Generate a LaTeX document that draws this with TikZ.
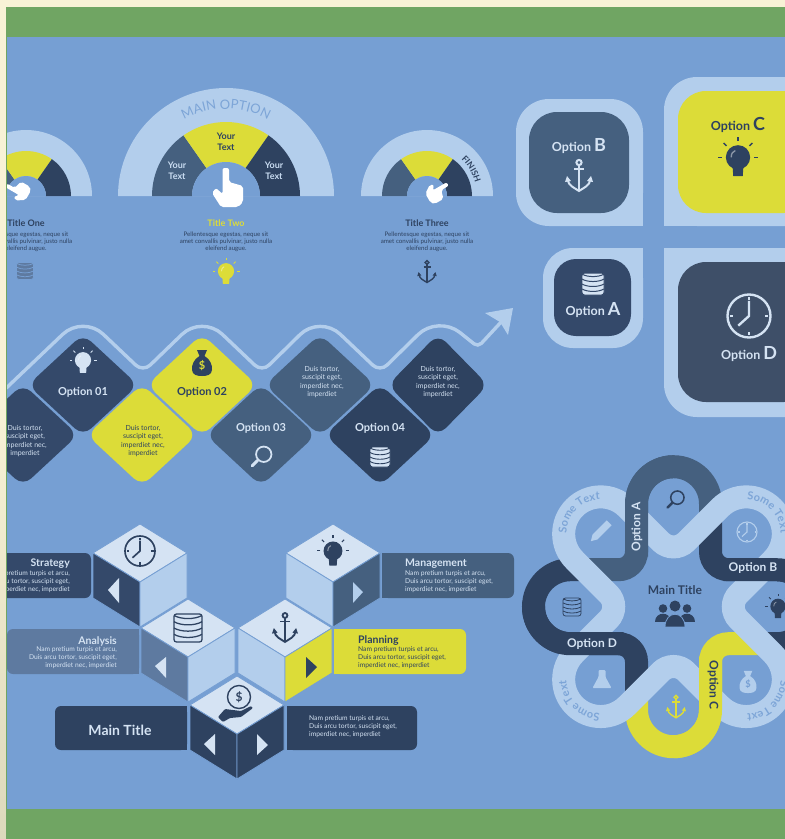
\documentclass[tikz,border=0pt]{standalone}
\usepackage{fontspec}
\setmainfont{Lato}
\usetikzlibrary{decorations.text}

\definecolor{cream}{HTML}{F8F2D6}
\definecolor{creamdim}{HTML}{DDD9BC}
\definecolor{leaf}{HTML}{70A563}
\definecolor{skyblue}{HTML}{769FD3}
\definecolor{lightblue}{HTML}{B3CEEC}
\definecolor{paleblue}{HTML}{D5E3F3}
\definecolor{txtblue}{HTML}{7DA5D7}
\definecolor{navy}{HTML}{2E4260}
\definecolor{navytwo}{HTML}{34496A}
\definecolor{slate}{HTML}{45607F}
\definecolor{midslate}{HTML}{5E7AA0}
\definecolor{steel}{HTML}{3E4F68}
\definecolor{lemon}{HTML}{DCDC38}

\tikzset{
	ribbon/.style={line width=23pt},
	bigopt/.style={font=\fontsize{11}{12}\selectfont\bfseries},
	ribbontxt/.style={font=\fontsize{12}{14}\selectfont\bfseries},
	squareopt/.style={font=\fontsize{12.5}{14}\selectfont\bfseries},
	yourtxt/.style={font=\fontsize{9}{11}\selectfont\bfseries,align=center},
	headtxt/.style={font=\fontsize{9}{10}\selectfont\bfseries},
	tinytxt/.style={font=\fontsize{6.2}{7.2}\selectfont,align=center},
	dicetxt/.style={font=\fontsize{7}{8.2}\selectfont,align=center},
	boxhead/.style={font=\fontsize{10.5}{12}\selectfont\bfseries,inner sep=0pt},
	boxtxt/.style={font=\fontsize{6.7}{8}\selectfont,inner sep=0pt},
}

% half round gauge, centre x, radii
\newcommand{\gauge}[4]{
	\begin{scope}[shift={(#1,196)},y=1pt]
		\fill[lightblue] (-#2,0) arc (180:0:#2) -- cycle;
		\fill[slate] (180:#3) arc (180:125:#3) -- (125:#4) arc (125:180:#4) -- cycle;
		\fill[lemon] (125:#3) arc (125:55:#3) -- (55:#4) arc (55:125:#4) -- cycle;
		\fill[navy] (55:#3) arc (55:0:#3) -- (0:#4) arc (0:55:#4) -- cycle;
		\fill[skyblue] (-#4,0) arc (180:0:#4) -- cycle;
	\end{scope}
}
\newcommand{\handicon}[4]{
	\fill[white,rounded corners=2pt,shift={(#1,#2)},rotate=#3,scale=#4]
		(-3.5,-22) -- (3,-22) -- (3,-8) -- (17,-4) -- (17,12) -- (12,17) -- (-5,17) -- (-14,3) -- (-10,-2) -- (-3.5,4) -- cycle;
}
\newcommand{\tile}[4]{
	\fill[#4,rounded corners=11pt,shift={(#1,#2)},xscale=#3] (-55,0) -- (0,-51) -- (55,0) -- (0,51) -- cycle;
}
\newcommand{\cube}[4]{
	\begin{scope}[shift={(#1,#2)},draw=skyblue,line width=.8pt]
		\filldraw[fill=paleblue] (-47,0) -- (0,-29) -- (47,0) -- (0,29) -- cycle;
		\filldraw[fill=#3] (-47,0) -- (0,29) -- (0,74) -- (-47,45) -- cycle;
		\filldraw[fill=#4] (47,0) -- (0,29) -- (0,74) -- (47,45) -- cycle;
	\end{scope}
}
% icons: x, y, scale, colour
\newcommand{\anchoricon}[4]{
	\begin{scope}[shift={(#1,#2)},scale=#3,draw=#4,fill=#4,line width=#3*2pt]
		\draw (0,-13.5) circle (2.6);
		\draw (0,-11) -- (0,14);
		\draw (-5,-7) -- (5,-7);
		\draw (-11.5,3) .. controls (-11,10) and (-4,12) .. (0,15) .. controls (4,12) and (11,10) .. (11.5,3);
		\fill (-14,6) -- (-12,0) -- (-8,5) -- cycle;
		\fill (14,6) -- (12,0) -- (8,5) -- cycle;
	\end{scope}
}
\newcommand{\bulbicon}[4]{
	\begin{scope}[shift={(#1,#2)},scale=#3,draw=#4,fill=#4,line width=#3*1pt]
		\fill (0,-2) circle (9);
		\fill (-4,5) -- (4,5) -- (3.5,12) -- (-3.5,12) -- cycle;
		\foreach \ray in {0,-45,-90,-135,180} {
			\draw (\ray:12) ++(0,-2) -- ++(\ray:3);
		}
		\draw[white,opacity=.45] (-5,-2) .. controls (-5,-5) and (-4,-6) .. (-2,-7);
	\end{scope}
}
\newcommand{\stackicon}[5]{
	\begin{scope}[shift={(#1,#2)},scale=#3,line width=#3*.9pt]
		\fill[#4,rounded corners=2.5pt] (-10,-10) rectangle (10,10);
		\foreach \row in {-9,-4.5,0,4.5} {
			\draw[#5] (-10,\row) .. controls (-5,\row+3) and (5,\row+3) .. (10,\row);
		}
		\draw[#5,rounded corners=2.5pt] (-10,-10) rectangle (10,10);
	\end{scope}
}
\newcommand{\clockicon}[4]{
	\begin{scope}[shift={(#1,#2)},scale=#3,draw=#4,line width=#3*1.1pt]
		\draw (0,0) circle (10);
		\draw (0,-7) -- (0,0) -- (-5,4.5);
		\foreach \tick in {0,90,180,270} {
			\draw (\tick:7.5) -- (\tick:9);
		}
	\end{scope}
}
\newcommand{\lensicon}[4]{
	\begin{scope}[shift={(#1,#2)},scale=#3,draw=#4,line width=#3*1.6pt]
		\draw (2.5,-2.5) circle (7);
		\draw[line width=#3*2.6pt,line cap=round] (-3,3) -- (-8,8);
	\end{scope}
}
\newcommand{\bagicon}[5]{
	\begin{scope}[shift={(#1,#2)},scale=#3]
		\fill[#4] (-5,-13) -- (5,-13) -- (2.5,-7) .. controls (8,-4) and (10.5,2) .. (10,7) .. controls (9.5,12) and (5,13) .. (0,13) .. controls (-5,13) and (-9.5,12) .. (-10,7) .. controls (-10.5,2) and (-8,-4) .. (-2.5,-7) -- cycle;
		\node[#5,scale=#3,font=\fontsize{11}{11}\selectfont\bfseries] (dollar) at (0,2.5) {\$};
	\end{scope}
}
\newcommand{\coinicon}[2]{
	\begin{scope}[shift={(#1,#2)}]
		\draw[navy,line width=1.4pt] (1,-8) circle (11.5);
		\node[navy,font=\fontsize{12}{12}\selectfont\bfseries] (coin) at (1,-8) {\$};
		\fill[navy,rounded corners=1pt] (-20,12) -- (-13,4) -- (-5,5) -- (3,6) -- (13,1) -- (15,3) -- (3,12) -- (-8,13) -- (-15,17) -- cycle;
	\end{scope}
}
\newcommand{\pencilicon}[3]{
	\fill[#3,shift={(#1,#2)},rotate=45] (-13,0) -- (-7,-3.5) -- (13,-3.5) -- (13,3.5) -- (-7,3.5) -- cycle;
}
\newcommand{\flaskicon}[3]{
	\begin{scope}[shift={(#1,#2)}]
		\fill[#3,rounded corners=1pt] (-3.5,-10) -- (3.5,-10) -- (3.5,-3) -- (9.5,8) -- (-9.5,8) -- (-3.5,-3) -- cycle;
	\end{scope}
}
\newcommand{\peopleicon}[3]{
	\begin{scope}[shift={(#1,#2)}]
		\fill[#3] (-12,-4.5) circle (4.3);
		\fill[#3] (12,-4.5) circle (4.3);
		\fill[#3] (-20,9) .. controls (-20,-2) and (-4,-2) .. (-4,9) -- cycle;
		\fill[#3] (20,9) .. controls (20,-2) and (4,-2) .. (4,9) -- cycle;
		\filldraw[fill=#3,draw=skyblue,line width=.8pt] (-10,14) .. controls (-10,-3) and (10,-3) .. (10,14) -- cycle;
		\fill[#3] (0,-7) circle (5.5);
	\end{scope}
}

\begin{document}
\begin{tikzpicture}[x=1pt,y=-1pt]
	\useasboundingbox (0,0) rectangle (785,839);
	\fill[cream] (0,0) rectangle (785,839);
	\shade[top color=cream,bottom color=creamdim] (0,400) rectangle (6,839);
	\fill[leaf] (6,7) rectangle (785,839);
	\begin{scope}
		\clip (7,37) rectangle (785,809);
		\fill[skyblue] (7,37) rectangle (785,809);

		% three gauges
		\gauge{26}{66}{45}{20}
		\gauge{226}{108}{74}{34}
		\gauge{427}{66}{45}{20}
		\path[decorate,decoration={text along path,text align=center,text color=txtblue,
			text={|\fontsize{13}{13}\selectfont|MAIN OPTION}}]
			(176.1,124.7) .. controls (206.1,103.7) and (245.9,103.7) .. (275.9,124.7);
		\path[decorate,decoration={text along path,text align=center,text color=navy,
			text={|\fontsize{8.5}{8.5}\selectfont\bfseries|FINISH}}]
			(457.8,156.6) .. controls (467.6,164.2) and (474,175.1) .. (476.2,187.3);
		\node[yourtxt,lightblue!70!white] (yourl) at (177,171) {Your\\Text};
		\node[yourtxt,navy] (yourm) at (226,142) {Your\\Text};
		\node[yourtxt,lightblue!70!white] (yourr) at (274,171) {Your\\Text};
		\handicon{18}{192}{60}{.62}
		\handicon{226}{190}{0}{1}
		\handicon{436}{191}{-60}{.62}
		\node[headtxt,navy] (titlea) at (26,223) {Title One};
		\node[headtxt,lemon] (titleb) at (226,223) {Title Two};
		\node[headtxt,navy] (titlec) at (427,223) {Title Three};
		\foreach \x in {26,226,427} {
			\node[tinytxt,navy] (desc\x) at (\x,242) {Pellentesque egestas, neque sit\\amet convallis pulvinar, justo nulla\\eleifend augue.};
		}
		\stackicon{25}{271}{.85}{midslate}{skyblue}
		\bulbicon{226}{273}{.9}{lemon}
		\anchoricon{427}{272}{.7}{navy}

		% wave with arrow
		\draw[lightblue,line width=3.4pt,rounded corners=28pt] (0,394) -- (83,315) [rounded corners=10pt] -- (143,372) [rounded corners=28pt] -- (202,315) [rounded corners=10pt] -- (262,372) [rounded corners=28pt] -- (320,315) [rounded corners=10pt] -- (380,372) [rounded corners=28pt] -- (438,315) [rounded corners=5pt] -- (478,347) [sharp corners] -- (503,320);
		\fill[lightblue] (485,313) -- (513,308) -- (508,335) -- (500,322) -- cycle;

		% tiles
		\foreach \x/\y/\w/\col in {83/385/1/navytwo,202/385/1/lemon,320/385/1/slate,438/385/.91/navy,23/435/1/navytwo,142/435/1/lemon,261/435/1/slate,380/435/1/navy} {
			\tile{\x}{\y}{\w}{\col}
		}
		\node[bigopt,paleblue] (optone) at (83,392) {Option 01};
		\node[bigopt,navy] (opttwo) at (202,392) {Option 02};
		\node[bigopt,paleblue] (optthree) at (261,428) {Option 03};
		\node[bigopt,paleblue] (optfour) at (380,428) {Option 04};
		\node[dicetxt,paleblue] (dicea) at (25,441) {Duis tortor,\\suscipit eget,\\imperdiet nec,\\imperdiet};
		\node[dicetxt,navy] (diceb) at (143,441) {Duis tortor,\\suscipit eget,\\imperdiet nec,\\imperdiet};
		\node[dicetxt,paleblue] (dicec) at (322,382) {Duis tortor,\\suscipit eget,\\imperdiet nec,\\imperdiet};
		\node[dicetxt,paleblue] (diced) at (438,382) {Duis tortor,\\suscipit eget,\\imperdiet nec,\\imperdiet};
		\bulbicon{83}{362}{.9}{paleblue}
		\bagicon{202}{363}{1}{navy}{lemon}
		\lensicon{261}{457}{1.1}{paleblue}
		\stackicon{380}{457}{1}{paleblue}{navy}

		% cubes
		\fill[navytwo,rounded corners=6pt] (-20,553) rectangle (91,598);
		\fill[slate,rounded corners=6pt] (382,553) rectangle (514,598);
		\fill[slate] (382,553) rectangle (400,598);
		\fill[midslate,rounded corners=6pt] (7,629) rectangle (139,674);
		\fill[midslate] (120,629) rectangle (139,674);
		\fill[lemon,rounded corners=6pt] (334,629) rectangle (466,674);
		\fill[lemon] (334,629) rectangle (350,674);
		\fill[navy,rounded corners=6pt] (55,706) rectangle (187,750);
		\fill[navy] (170,706) rectangle (187,750);
		\fill[navy,rounded corners=6pt] (287,706) rectangle (417,750);
		\fill[navy] (287,706) rectangle (300,750);
		\cube{140}{553}{navytwo}{lightblue}
		\cube{333}{553}{lightblue}{slate}
		\cube{188}{628}{midslate}{lightblue}
		\cube{285}{628}{lightblue}{lemon}
		\cube{237}{705}{navy}{navy}
		\fill[paleblue] (119,578) -- (108,590) -- (119,603) -- cycle;
		\fill[paleblue] (166,657) -- (155,666) -- (166,678) -- cycle;
		\fill[lightblue] (353,582) -- (363,592) -- (353,603) -- cycle;
		\fill[navy] (306,657) -- (317,667) -- (306,678) -- cycle;
		\fill[paleblue] (215,734) -- (204,744) -- (215,755) -- cycle;
		\fill[paleblue] (257,734) -- (268,745) -- (257,755) -- cycle;
		\node[boxhead,paleblue,anchor=east] (strategy) at (70,564) {Strategy};
		\node[boxtxt,paleblue,anchor=east,align=right] (strategytxt) at (70,581.5) {Nam pretium turpis et arcu,\\Duis arcu tortor, suscipit eget,\\imperdiet nec, imperdiet};
		\node[boxhead,paleblue,anchor=west] (management) at (405,564) {Management};
		\node[boxtxt,paleblue,anchor=west,align=left] (managementtxt) at (405,581.5) {Nam pretium turpis et arcu,\\Duis arcu tortor, suscipit eget,\\imperdiet nec, imperdiet};
		\node[boxhead,paleblue,anchor=east] (analysis) at (117,641) {Analysis};
		\node[boxtxt,paleblue,anchor=east,align=right] (analysistxt) at (117,658) {Nam pretium turpis et arcu,\\Duis arcu tortor, suscipit eget,\\imperdiet nec, imperdiet};
		\node[boxhead,navy,anchor=west] (planning) at (358,641) {Planning};
		\node[boxtxt,navy,anchor=west,align=left] (planningtxt) at (358,658) {Nam pretium turpis et arcu,\\Duis arcu tortor, suscipit eget,\\imperdiet nec, imperdiet};
		\node[boxhead,paleblue,font=\fontsize{14}{16}\selectfont\bfseries] (maintitle) at (120,730) {Main Title};
		\node[boxtxt,paleblue,anchor=west,align=left] (mainline) at (309,727) {Nam pretium turpis et arcu,\\Duis arcu tortor, suscipit eget,\\imperdiet nec, imperdiet};
		\clockicon{140}{551}{1.5}{navy}
		\bulbicon{333}{553}{1.05}{navy}
		\stackicon{188}{628}{1.4}{paleblue}{navy}
		\anchoricon{285}{628}{.93}{navy}
		\coinicon{238}{705}

		% option squares
		\fill[lightblue,rounded corners=33pt] (516,99) rectangle (643,226);
		\fill[lightblue] (600,190) rectangle (643,226);
		\fill[slate,rounded corners=28pt] (529,112) rectangle (629,213);
		\fill[lightblue,rounded corners=33pt] (664,77) rectangle (826,226);
		\fill[lightblue] (664,190) rectangle (700,226);
		\fill[lemon,rounded corners=28pt] (678,91) rectangle (812,213);
		\fill[lightblue,rounded corners=30pt] (543,248) rectangle (643,348);
		\fill[lightblue] (610,248) rectangle (643,280);
		\fill[navytwo,rounded corners=22pt] (554,259) rectangle (631,336);
		\fill[lightblue,rounded corners=33pt] (664,248) rectangle (826,417);
		\fill[lightblue] (664,248) rectangle (700,285);
		\fill[steel,rounded corners=28pt] (678,262) rectangle (812,402);
		\node[squareopt,paleblue] (optb) at (579,146) {Option \fontsize{18}{18}\selectfont B};
		\node[squareopt,navy] (optc) at (738,125) {Option \fontsize{18}{18}\selectfont C};
		\node[squareopt,paleblue] (opta) at (593,310) {Option \fontsize{18}{18}\selectfont A};
		\node[squareopt,paleblue] (optd) at (749,354) {Option \fontsize{18}{18}\selectfont D};
		\anchoricon{579}{176}{1}{paleblue}
		\bulbicon{738}{160}{1.35}{navy}
		\stackicon{593}{284}{1.1}{paleblue}{navytwo}
		\clockicon{749}{316}{2.15}{paleblue}

		% flower of two interlaced loops
		\begin{scope}[shift={(673.5,606.7)}]
			\foreach \rot/\col in {0/slate,-90/navy,180/lemon,90/navy} {
				\draw[ribbon,\col,rotate=\rot] (37,-89) [rounded corners=37pt] -- (37,-140) -- (-37,-140) [rounded corners=18pt] -- (-37,-37) -- (-89,-37);
			}
			\foreach \rot in {45,135,225,315} {
				\draw[ribbon,lightblue,rotate=\rot] (37,-85) [rounded corners=37pt] -- (37,-140) -- (-37,-140) [rounded corners=18pt] -- (-37,-37) -- (-93,-37);
			}
			\foreach \rot/\col in {0/slate,-90/navy,180/lemon,90/navy} {
				\draw[ribbon,\col,rotate=\rot] (0,-140) [rounded corners=37pt] -- (-37,-140) -- (-37,-50);
			}
			\foreach \rot in {0,90,180,-90} {
				\path[rotate=\rot,decorate,decoration={text along path,text align=center,text color=txtblue,
					text={|\fontsize{11}{11}\selectfont\bfseries|Some Text}}]
					(-107,-73) .. controls (-107,-92) and (-92,-107) .. (-73,-107);
			}
		\end{scope}
		\node[ribbontxt,paleblue,rotate=90] (ribbona) at (637,527) {Option A};
		\node[ribbontxt,paleblue] (ribbonb) at (753,568) {Option B};
		\node[ribbontxt,navy,rotate=-90] (ribbonc) at (713,685) {Option C};
		\node[ribbontxt,paleblue] (ribbond) at (592,644) {Option D};
		\node[navy,font=\fontsize{12}{13}\selectfont\bfseries] (flowertitle) at (675,590) {Main Title};
		\peopleicon{675}{613}{navy}
		\pencilicon{600}{532}{lightblue}
		\lensicon{675}{500}{.95}{navy}
		\clockicon{747}{532}{1}{lightblue}
		\bulbicon{778}{608}{.85}{navy}
		\bagicon{748}{682}{.85}{lightblue}{skyblue}
		\anchoricon{676}{707}{.72}{lemon}
		\flaskicon{602}{680}{lightblue}
		\stackicon{572}{607}{.9}{skyblue}{navy}
	\end{scope}
\end{tikzpicture}
\end{document}
